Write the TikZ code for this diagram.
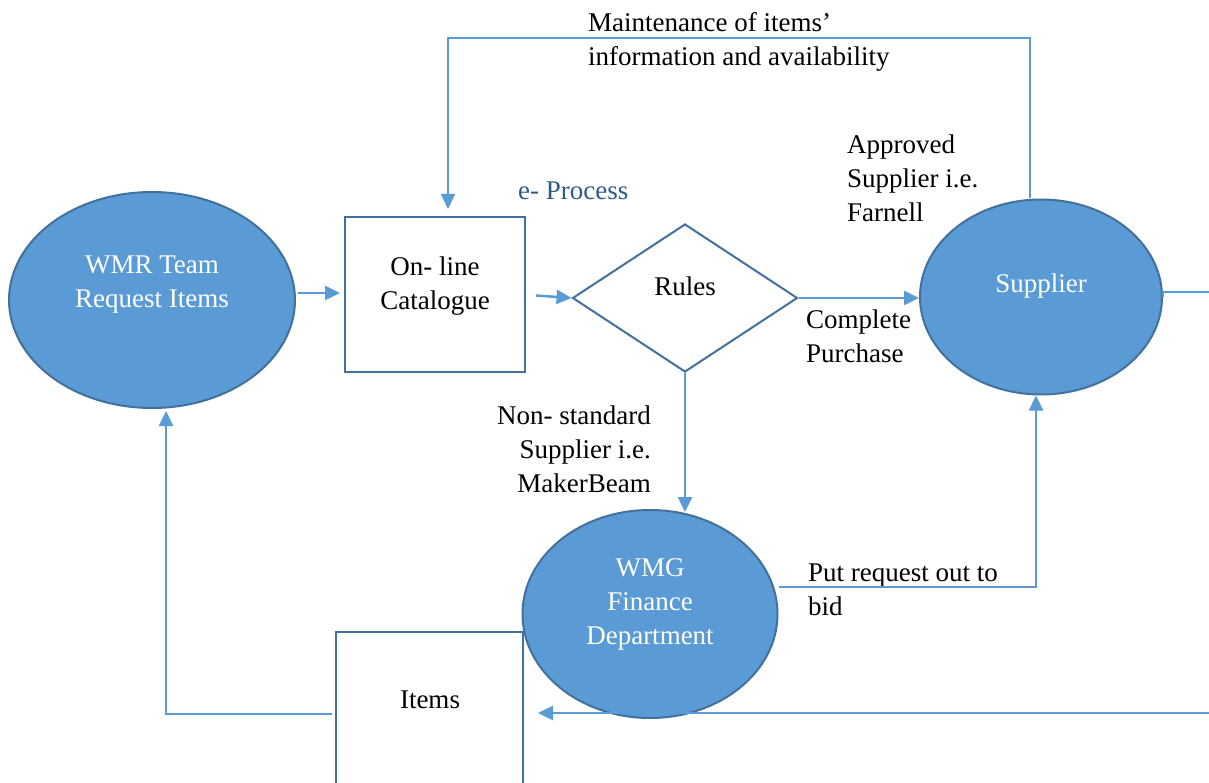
\documentclass[tikz,border=0pt]{standalone}
\usepackage{fontspec}
\setmainfont{Liberation Serif}
\usetikzlibrary{shapes.geometric,arrows.meta,calc}
\definecolor{fillblue}{HTML}{5B9BD5}
\definecolor{edgeblue}{HTML}{41719C}
\definecolor{procblue}{HTML}{2E5C8A}
\tikzset{
  ell/.style={ellipse,draw=edgeblue,fill=fillblue,line width=2pt,inner sep=0pt},
  boxn/.style={rectangle,draw=edgeblue,fill=white,line width=2pt,inner sep=0pt},
  diam/.style={diamond,draw=edgeblue,fill=white,line width=2pt,inner sep=0pt,aspect=1},
  wtxt/.style={text=white,align=center,inner sep=0pt},
  btxt/.style={text=black,inner sep=0pt},
  arr/.style={draw=fillblue,line width=2.5pt,-{Triangle[length=15pt,width=14pt]}},
  thin/.style={draw=fillblue,line width=1.5pt},
  thinarr/.style={draw=fillblue,line width=1.5pt,-{Triangle[length=15pt,width=14pt]}},
}
\begin{document}
\begin{tikzpicture}[x=1pt,y=-1pt,font=\fontsize{27}{34}\selectfont]
\clip (0,0) rectangle (1209,783);
\fill[white] (0,0) rectangle (1209,783);
% shapes
\node[ell,minimum width=286pt,minimum height=216pt] (wmr) at (152,300) {};
\node[boxn,minimum width=180pt,minimum height=155pt] (cat) at (435,294.5) {};
\node[diam,minimum width=225pt,minimum height=148pt] (rules) at (685,298) {};
\node[ell,minimum width=242pt,minimum height=195pt] (sup) at (1041,297) {};
\node[boxn,minimum width=187pt,minimum height=168pt] (items) at (429.5,716) {};
\node[ell,minimum width=255pt,minimum height=208pt] (wmg) at (650,614) {};
% texts inside (base = baseline of last line)
\node[wtxt,anchor=base] (wmrt) at (152,308) {WMR Team\\Request Items};
\node[btxt,align=center,anchor=base] (catt) at (435,310) {On- line\\Catalogue};
\node[btxt,anchor=base] (rulest) at (685,296) {Rules};
\node[wtxt,anchor=base] (supt) at (1041,293) {Supplier};
\node[wtxt,anchor=base] (wmgt) at (650,644) {WMG\\Finance\\Department};
\node[btxt,anchor=base] (itemst) at (430,708) {Items};
% labels
\node[btxt,align=left,anchor=base west] (maint) at (588,66) {Maintenance of items’\\information and availability};
\node[btxt,text=procblue,anchor=base west] (eproc) at (518,200) {e- Process};
\node[btxt,align=left,anchor=base west] (appr) at (847,222) {Approved\\Supplier i.e.\\Farnell};
\node[btxt,align=left,anchor=base west] (compl) at (806,362) {Complete\\Purchase};
\node[btxt,align=right,anchor=base east] (nonstd) at (651,492) {Non- standard\\Supplier i.e.\\MakerBeam};
\node[btxt,align=left,anchor=base west] (putreq) at (808,615) {Put request out to\\bid};
% coordinates
\coordinate (tl) at (448,38);
\coordinate (sr) at (1215,292);
\coordinate (rr) at (1215,713);
% connectors
\draw[arr] ([xshift=2pt,yshift=7pt]wmr.east) -- ([xshift=-4pt,yshift=7pt]wmr.east -| cat.west);
\draw[arr] ([xshift=10pt,yshift=-1pt]cat.east) -- (rules.west);
\draw[arr] (rules.east) -- (rules.east -| sup.west);
\draw[thinarr] ([xshift=-11pt]sup.north) |- (tl) -- ([yshift=7pt]tl |- cat.north);
\draw[thin] (sup.east) -- (sup.east |- sr) -- (sr);
\draw[arr] (rules.south) -- ([yshift=-3pt]rules.south |- wmg.north);
\draw[arr] ([yshift=27pt]wmg.east) -| ([xshift=-5pt]sup.south);
\draw[arr] (rr) -- ([xshift=14pt]items.east |- rr);
\draw[arr] ([xshift=-3pt,yshift=2pt]items.west) -| ([xshift=14pt,yshift=-2pt]wmr.south);
\end{tikzpicture}
\end{document}
